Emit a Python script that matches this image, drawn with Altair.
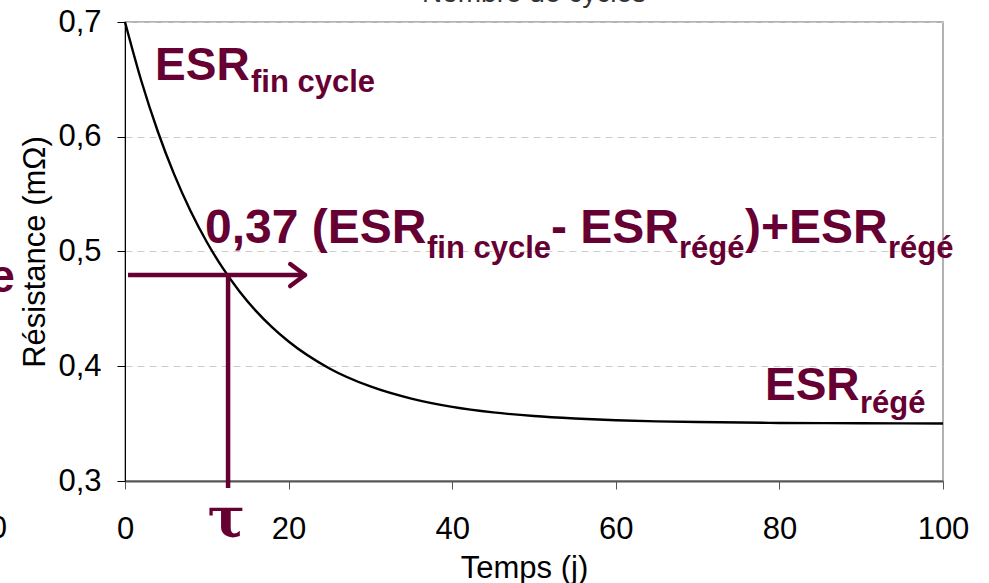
import altair as alt
import pandas as pd

# Resistance relaxation after the end of a cycling period
days = [0, 2, 4, 6, 8, 10, 12, 14, 16, 18, 20, 25, 30, 35, 40, 45, 50, 55, 60, 65, 70, 80, 90, 100]
esr = [0.7000, 0.6486, 0.6048, 0.5674, 0.5355, 0.5083, 0.4850, 0.4652, 0.4483, 0.4339,
       0.4216, 0.3981, 0.3824, 0.3718, 0.3646, 0.3598, 0.3566, 0.3545, 0.3530, 0.3520,
       0.3514, 0.3506, 0.3503, 0.3501]

# time constant and the resistance reached at that time
tau = 12.6
esr_tau = 0.4795

x_ticks = [0, 20, 40, 60, 80, 100]
y_ticks = [0.3, 0.4, 0.5, 0.6, 0.7]

MAROON = "#660033"
FONT = "Liberation Sans"

# annotation pieces: text, x (days), y (mΩ), font size
ann_text = ["ESR", "fin cycle",
            "0,37 (ESR", "fin cycle", "- ESR", "régé", ")+ESR", "régé",
            "ESR", "régé", "e"]
ann_x = [3.67, 15.4,
         9.78, 36.92, 52.08, 67.73, 75.79, 93.28,
         78.24, 89.85, -16.6]
ann_y = [0.6495, 0.639,
         0.5074, 0.4943, 0.5074, 0.4943, 0.5074, 0.4943,
         0.3706, 0.3593, 0.4647]
ann_size = [46, 31,
            48, 31, 48, 31, 48, 31,
            46, 31, 46]

curve = pd.DataFrame({"t": days, "r": esr})
ann = pd.DataFrame({"txt": ann_text, "t": ann_x, "r": ann_y, "s": ann_size})

# arrow shaft, vertical drop at tau, and the two wings of the arrow head
shaft_x0, shaft_x1 = 0.37, 22.0
head_back, head_half = 20.2, 0.0096
lines = pd.DataFrame({
    "t": [shaft_x0, tau],
    "t2": [shaft_x1, tau],
    "r": [esr_tau, esr_tau],
    "r2": [esr_tau, 0.2939],
})
wings = pd.DataFrame({
    "t": [head_back, head_back],
    "t2": [shaft_x1, shaft_x1],
    "r": [esr_tau + head_half, esr_tau - head_half],
    "r2": [esr_tau, esr_tau],
})

x_scale = alt.Scale(domain=[0, 100], nice=False)
y_scale = alt.Scale(domain=[0.3, 0.7], nice=False, zero=False)

x_axis = alt.Axis(
    values=x_ticks, title="Temps (j)", grid=False, labelFlush=False,
    domainColor="#555555", domainWidth=2, tickColor="#555555", tickSize=8,
    labelFont=FONT, labelFontSize=31, labelColor="black",
    labelBaseline="alphabetic", labelPadding=49,
    titleFont=FONT, titleFontSize=31, titleFontWeight="normal", titleColor="black",
    titleX=399, titleY=96, titleBaseline="alphabetic", titleAlign="center",
)
y_axis = alt.Axis(
    values=y_ticks, title="Résistance (mΩ)", labelFlush=False,
    labelExpr="replace(format(datum.value, '.1f'), '.', ',')",
    grid=True, gridColor="#cccccc", gridDash=[7, 5], gridWidth=1,
    domainColor="black", domainWidth=1, tickColor="black", tickSize=8,
    labelFont=FONT, labelFontSize=31, labelColor="black", labelPadding=16,
    titleFont=FONT, titleFontSize=31, titleFontWeight="normal", titleColor="black",
    titleX=-90, titleY=229.5, titleAngle=270, titleBaseline="middle", titleAlign="center",
)

line = alt.Chart(curve).mark_line(color="black", strokeWidth=2.4, interpolate="monotone").encode(
    x=alt.X("t:Q", scale=x_scale, axis=x_axis),
    y=alt.Y("r:Q", scale=y_scale, axis=y_axis),
)

rules = alt.Chart(lines).mark_rule(color=MAROON, strokeWidth=4.5).encode(
    x=alt.X("t:Q", scale=x_scale), x2="t2:Q",
    y=alt.Y("r:Q", scale=y_scale), y2="r2:Q",
)

head = alt.Chart(wings).mark_rule(color=MAROON, strokeWidth=4.5, strokeCap="round").encode(
    x=alt.X("t:Q", scale=x_scale), x2="t2:Q",
    y=alt.Y("r:Q", scale=y_scale), y2="r2:Q",
)

labels = alt.Chart(ann).mark_text(
    align="left", baseline="alphabetic", font=FONT, fontWeight="bold", color=MAROON,
).encode(
    x=alt.X("t:Q", scale=x_scale),
    y=alt.Y("r:Q", scale=y_scale),
    text="txt:N",
    size=alt.Size("s:Q", scale=None, legend=None),
)

tau_label = alt.Chart(pd.DataFrame({"t": [12.4], "r": [0.2512], "txt": ["τ"]})).mark_text(
    align="center", baseline="alphabetic", font="DejaVu Serif", fontWeight="bold",
    fontSize=56, color=MAROON,
).encode(x=alt.X("t:Q", scale=x_scale), y=alt.Y("r:Q", scale=y_scale), text="txt:N")

# fragments of neighbouring text at the figure edges
edge = pd.DataFrame({"t": [-14.43], "r": [0.2503], "txt": ["0"]})
edge_label = alt.Chart(edge).mark_text(
    align="right", baseline="alphabetic", font=FONT, fontSize=31, color="black",
).encode(x=alt.X("t:Q", scale=x_scale), y=alt.Y("r:Q", scale=y_scale), text="txt:N")

top_title = alt.Chart(pd.DataFrame({"t": [50], "r": [0.7175], "txt": ["Nombre de cycles"]})).mark_text(
    align="center", baseline="alphabetic", font=FONT, fontSize=28, color="#333333",
).encode(x=alt.X("t:Q", scale=x_scale), y=alt.Y("r:Q", scale=y_scale), text="txt:N")

chart = alt.layer(line, rules, head, labels, tau_label, edge_label, top_title).properties(
    width=818, height=459,
    padding={"left": 125, "top": 22, "right": 46, "bottom": 102},
    autosize=alt.AutoSizeParams(type="none"),
    background="white",
).configure_view(stroke="#999999", strokeWidth=1.5)

chart.save("out.html", embed_options={"renderer": "svg", "actions": False})
